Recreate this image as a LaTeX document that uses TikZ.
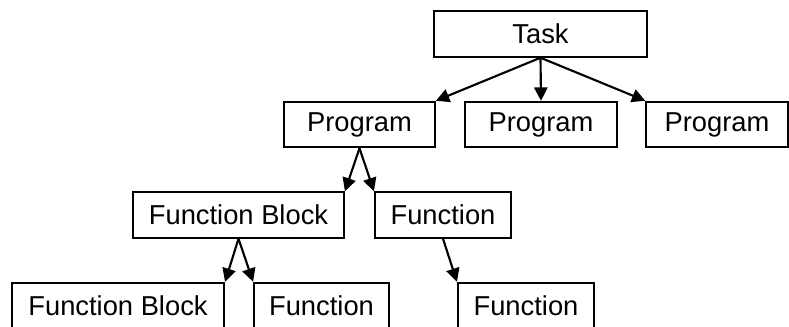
\documentclass[tikz,border=0pt]{standalone}
\usepackage{fontspec}
\setmainfont{Liberation Sans}
\usetikzlibrary{arrows.meta}

\begin{document}
\begin{tikzpicture}[x=0.75pt, y=-0.75pt, line width=1.6pt,
  -{Triangle[length=10pt,width=10pt]},
  box/.style={draw, rectangle, inner sep=0pt, minimum height=34pt,
    font=\fontsize{20.5}{24}\selectfont}]
\useasboundingbox (0,0) rectangle (789,327);
\node (1)[box, minimum width=160pt] at (540.5,34)  {Task};
\node (2)[box, minimum width=113pt] at (359.5,124.5) {Program};
\node (3)[box, minimum width=114pt] at (541,124.5) {Program};
\node (4)[box, minimum width=106pt] at (717,124.5) {Program};
\node (5)[box, minimum width=158pt] at (238.5,215) {Function Block};
\node (6)[box, minimum width=102pt] at (443,215) {Function};
\node (7)[box, minimum width=159pt] at (118,305.5) {Function Block};
\node (8)[box, minimum width=101pt] at (321.5,305.5) {Function};
\node (9)[box, minimum width=102pt] at (526,305.5) {Function};
\path 	(1.south) edge (2.north east)
		(1.south) edge (3.north)
		(1.south) edge (4.north west)
		(2.south) edge (5.north east)
		(2.south) edge (6.north west)
		(5.south) edge (7.north east)
		(5.south) edge (8.north west)
		(6.south) edge (9.north west);
\end{tikzpicture}
\end{document}
